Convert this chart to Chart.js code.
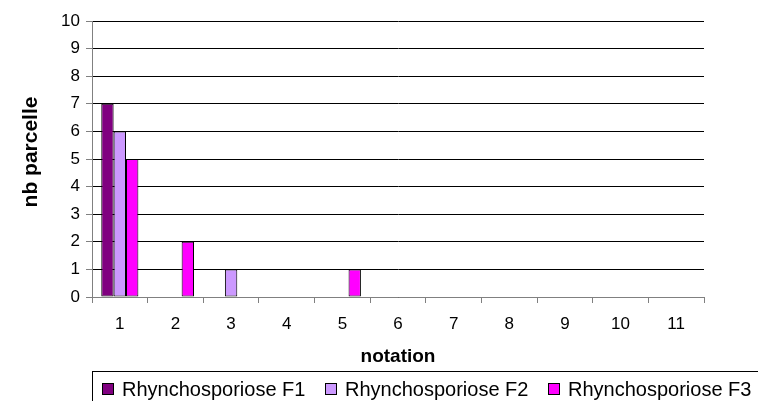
<!DOCTYPE html>
<html>
<head>
<meta charset="utf-8">
<script src="https://cdn.jsdelivr.net/npm/chart.js@4.4.0/dist/chart.umd.min.js"></script>
<style>
  html, body { margin: 0; padding: 0; background: #fff; }
  #wrap { width: 758px; height: 401px; position: relative; }
</style>
</head>
<body>
<div id="wrap"><canvas id="chart" width="758" height="401"></canvas></div>
<script>
  // données
  const categories = ['1', '2', '3', '4', '5', '6', '7', '8', '9', '10', '11'];
  const serieF1 = [7, 0, 0, 0, 0, 0, 0, 0, 0, 0, 0];
  const serieF2 = [6, 0, 1, 0, 0, 0, 0, 0, 0, 0, 0];
  const serieF3 = [5, 2, 0, 0, 1, 0, 0, 0, 0, 0, 0];
  const seriesLabels = ['Rhynchosporiose F1', 'Rhynchosporiose F2', 'Rhynchosporiose F3'];
  const yTicks = [0, 1, 2, 3, 4, 5, 6, 7, 8, 9, 10];

  const colors = ['#800080', '#CC99FF', '#FF00FF'];
  const FONT = 'Liberation Sans, Arial, sans-serif';

  Chart.defaults.font.family = FONT;
  Chart.defaults.font.size = 17;
  Chart.defaults.color = '#000';

  // titres + légende dessinés à la main (position style Excel)
  const decor = {
    id: 'decor',
    afterDraw(chart) {
      const ctx = chart.ctx;
      const area = chart.chartArea;
      ctx.save();
      ctx.fillStyle = '#000';

      // titre axe Y
      ctx.font = 'bold 21px ' + FONT;
      ctx.textAlign = 'center';
      ctx.textBaseline = 'middle';
      ctx.save();
      ctx.translate(31, 152);
      ctx.rotate(-Math.PI / 2);
      ctx.fillText('nb parcelle', 0, 0);
      ctx.restore();

      // titre axe X
      ctx.font = 'bold 19px ' + FONT;
      ctx.fillText('notation', (area.left + area.right) / 2, 357);

      // légende
      ctx.strokeStyle = '#000';
      ctx.lineWidth = 1;
      ctx.strokeRect(92.5, 371.5, 720, 60);
      ctx.font = '20px ' + FONT;
      ctx.textAlign = 'left';
      chart.data.datasets.forEach((ds, i) => {
        const x = 102 + i * 223;
        ctx.fillStyle = ds.backgroundColor;
        ctx.fillRect(x, 383, 12, 12);
        ctx.strokeRect(x + 0.5, 383.5, 11, 11);
        ctx.fillStyle = '#000';
        ctx.fillText(ds.label, x + 20, 390);
      });
      ctx.restore();
    }
  };

  const mkDataset = (label, data, color) => ({
    label,
    data,
    backgroundColor: color,
    borderColor: '#000',
    borderWidth: (c) => (c.raw ? 1 : 0),
    borderSkipped: false,
    categoryPercentage: 0.667,
    barPercentage: 1
  });

  new Chart(document.getElementById('chart'), {
    type: 'bar',
    data: {
      labels: categories,
      datasets: [
        mkDataset(seriesLabels[0], serieF1, colors[0]),
        mkDataset(seriesLabels[1], serieF2, colors[1]),
        mkDataset(seriesLabels[2], serieF3, colors[2])
      ]
    },
    options: {
      responsive: false,
      animation: false,
      devicePixelRatio: 1,
      layout: { padding: { top: 21, right: 54, left: 0, bottom: 0 } },
      plugins: { legend: { display: false }, tooltip: { enabled: false } },
      scales: {
        x: {
          offset: true,
          afterFit: (s) => { s.height = 104; },
          grid: { display: true, offset: true, drawOnChartArea: false, tickLength: 6, tickColor: '#808080' },
          border: { color: '#808080' },
          ticks: { color: '#000', font: { size: 17 }, padding: 11 }
        },
        y: {
          min: 0,
          max: 10,
          afterFit: (s) => { s.width = 92; },
          afterBuildTicks: (s) => { s.ticks = yTicks.map(v => ({ value: v })); },
          grid: { color: '#000', tickLength: 6, tickColor: '#808080' },
          border: { color: '#808080' },
          ticks: { color: '#000', font: { size: 17 }, padding: 6 }
        }
      }
    },
    plugins: [decor]
  });
</script>
</body>
</html>
